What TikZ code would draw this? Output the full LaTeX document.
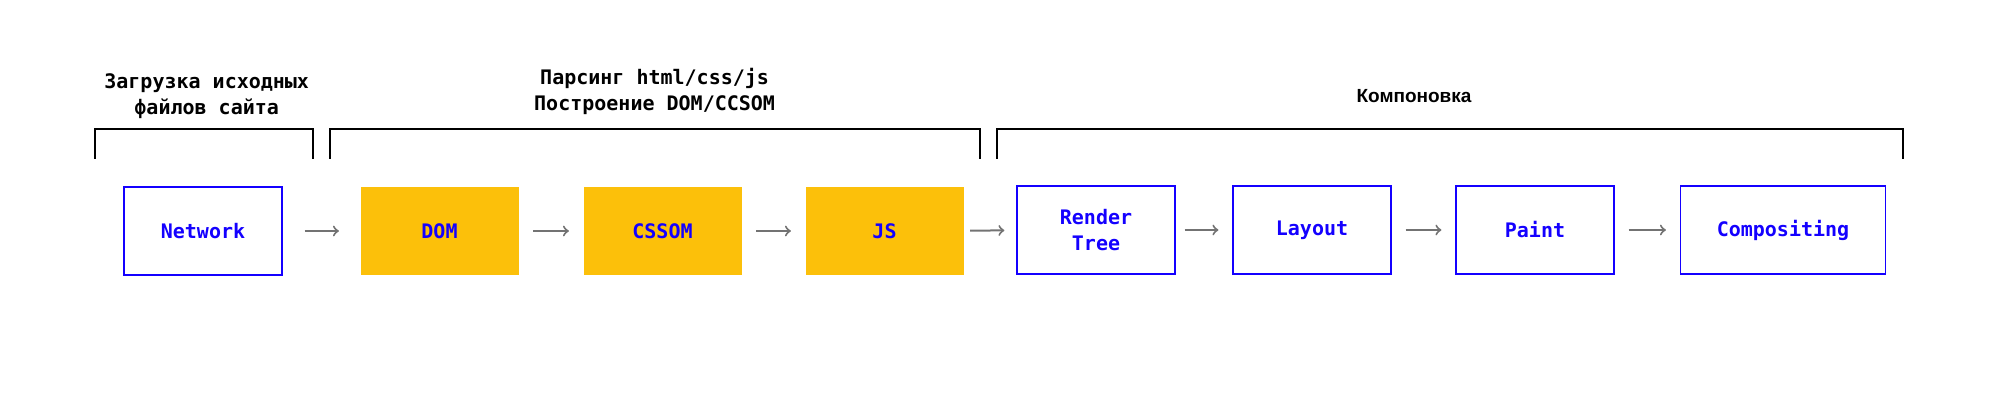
\documentclass[tikz,border=0pt]{standalone}
\usepackage{fontspec}
\setmonofont{DejaVu Sans Mono}
\newfontfamily\headsans{Liberation Sans}
\definecolor{boxblue}{RGB}{20,0,255}
\definecolor{parseyellow}{RGB}{252,192,10}
\tikzstyle{flow}=[shorten >=7pt,shorten <=7pt,->,draw=black!55,line width=1pt]
\tikzstyle{stage}=[rectangle,inner sep=0pt,draw=boxblue,line width=0.6pt,fill=white,text=boxblue,minimum width=79pt,minimum height=44pt,font=\ttfamily\bfseries\fontsize{10}{13}\selectfont,align=center]
\tikzstyle{parsebox}=[stage,draw=none,fill=parseyellow]
\tikzstyle{head}=[inner sep=0pt,align=center,font=\ttfamily\bfseries\fontsize{10}{13}\selectfont]
\tikzstyle{brace}=[-,draw=black,line width=0.6pt]
\begin{document}
\begin{tikzpicture}[x=0.5pt,y=-0.5pt]
				\useasboundingbox (0,0) rectangle (1992,417);

				%The group headers
				\draw (206.7,96) node[head] (hload) {Загрузка исходных\\файлов сайта};
				\draw (654.6,91) node[head] (hparse) {Парсинг html/css/js\\Построение DOM/CCSOM};
				\draw (1414,96) node[head,font=\headsans\bfseries\fontsize{9.5}{12}\selectfont] (hlayout) {Компоновка};

				%The brackets
				\draw[brace] (95,159) |- (313,129) -- (313,159);
				\draw[brace] (330,159) |- (980,129) -- (980,159);
				\draw[brace] (997,159) |- (1903,129) -- (1903,159);

				%The loading stage
				\draw (203,231) node[stage] (net) {Network};

				%The parsing stages
				\draw (439.5,231) node[parsebox] (dom) {DOM};
				\draw (662.5,231) node[parsebox] (cssom) {CSSOM};
				\draw (884.5,231) node[parsebox] (js) {JS};

				%The layout stages
				\draw (1096,230) node[stage] (render) {Render\\Tree};
				\draw (1312,230) node[stage] (layout) {Layout};
				\draw (1535,230) node[stage] (paint) {Paint};
				\draw (1783,230) node[stage,minimum width=102.5pt] (comp) {Compositing};

				%The arrows
				\draw[flow,shorten <=11pt,shorten >=10.5pt] (net) -- (dom);
				\draw[flow] (dom) -- (cssom);
				\draw[flow] (cssom) -- (js);
				\draw[flow,shorten <=3pt,shorten >=6pt] (js) -- (render);
				\draw[flow,shorten <=4.5pt] (render) -- (layout);
				\draw[flow] (layout) -- (paint);
				\draw[flow] (paint) -- (comp);
			\end{tikzpicture}
\end{document}
